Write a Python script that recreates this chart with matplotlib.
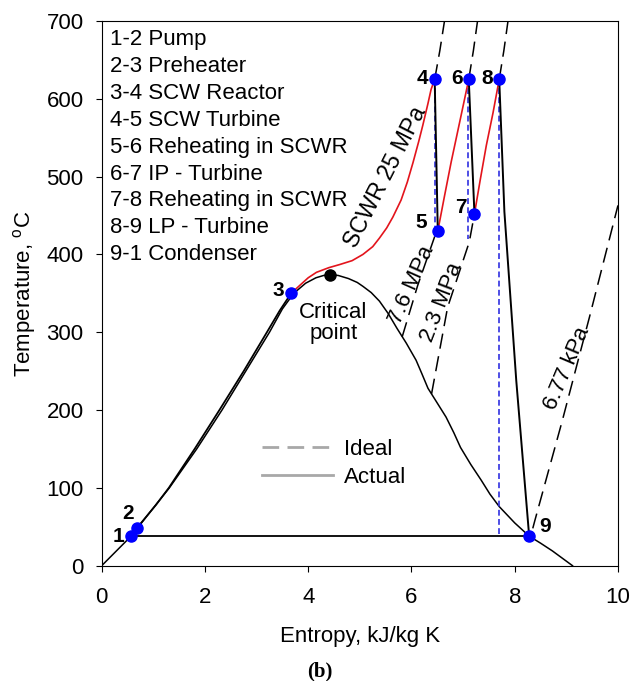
import matplotlib.pyplot as plt
from matplotlib.lines import Line2D

FILENAME = 'out.png'
FS = 16

# saturation dome
sat_liq_s = [0.0, 0.57, 0.83, 1.07, 1.31, 1.84, 2.33, 2.79, 3.25, 3.50, 3.72, 3.95,
             4.15, 4.30, 4.42]
sat_liq_T = [0, 38, 60, 80, 100, 150, 200, 250, 300, 330, 350, 363,
             370, 373, 374]
sat_vap_s = [4.42, 4.58, 4.78, 4.95, 5.06, 5.22, 5.38, 5.55, 5.72, 5.90, 6.09, 6.20,
             6.32, 6.50, 6.67, 6.82, 6.95, 7.15, 7.35, 7.52, 7.70, 8.00, 8.28, 8.50,
             8.73, 9.12]
sat_vap_T = [374, 373, 369, 364, 359, 351, 340, 324, 305, 286, 264, 247,
             228, 209, 191, 171, 152, 130, 110, 92, 76, 55, 38, 29,
             19, 0]
crit_s, crit_T = 4.42, 374

# cycle state points 1..9
pt_names = ['1', '2', '3', '4', '5', '6', '7', '8', '9']
pt_s = [0.57, 0.69, 3.67, 6.45, 6.51, 7.11, 7.22, 7.70, 8.28]
pt_T = [38, 49, 350, 625, 430, 625, 452, 625, 38]
lbl_s = [0.33, 0.52, 3.42, 6.21, 6.19, 6.88, 6.95, 7.46, 8.58]
lbl_T = [38, 67, 354, 626, 441, 626, 460, 626, 50]

# process lines
preheat_s = [0.69, 1.05, 1.30, 1.80, 2.28, 2.75, 3.20, 3.45, 3.67]
preheat_T = [49, 78, 100, 150, 200, 250, 300, 328, 350]
reactor_s = [3.67, 3.85, 4.00, 4.16, 4.40, 4.61, 4.85, 5.06, 5.25, 5.38, 5.52, 5.64,
             5.80, 5.92, 6.03, 6.14, 6.22, 6.32, 6.38, 6.45]
reactor_T = [350, 361, 370, 377, 383, 387, 392, 400, 410, 421, 434, 448,
             470, 493, 518, 545, 566, 594, 612, 625]
reheat1_s = [6.51, 6.64, 6.77, 6.95, 7.11]
reheat1_T = [430, 475, 519, 575, 625]
reheat2_s = [7.22, 7.33, 7.45, 7.58, 7.70]
reheat2_T = [452, 495, 540, 582, 625]
lp_s = [7.70, 7.80, 8.03, 8.28]
lp_T = [625, 455, 238, 38]

# ideal (isentropic) expansions
ideal_s = [6.45, 7.09, 7.70]
ideal_top = [625, 625, 625]
ideal_bottom = [422, 420, 38]

# isobars
p25_s = [6.45, 6.55, 6.64]
p25_T = [625, 662, 700]
p76_lo_s = [5.82, 6.12, 6.45, 6.51]
p76_lo_T = [294, 360, 423, 430]
p76_hi_s = [7.11, 7.20, 7.28]
p76_hi_T = [625, 662, 700]
p23_lo_s = [6.39, 6.70, 7.12, 7.22]
p23_lo_T = [221, 332, 416, 452]
p23_hi_s = [7.70, 7.79, 7.87]
p23_hi_T = [625, 662, 700]
p677_s = [8.35, 8.39, 8.92, 9.45, 10.0]
p677_T = [48, 58, 186, 320, 463]

steps = ['1-2 Pump', '2-3 Preheater', '3-4 SCW Reactor', '4-5 SCW Turbine',
         '5-6 Reheating in SCWR', '6-7 IP - Turbine', '7-8 Reheating in SCWR',
         '8-9 LP - Turbine', '9-1 Condenser']

plt.rcParams['font.family'] = ['Liberation Sans', 'DejaVu Sans']
plt.rcParams['font.size'] = FS
plt.rcParams['mathtext.fontset'] = 'custom'
plt.rcParams['mathtext.rm'] = 'Liberation Sans'

fig = plt.figure(figsize=(6.3, 6.81), dpi=100)
ax = fig.add_axes([0.1614, 0.1693, 0.8195, 0.7999])

ax.plot(sat_liq_s, sat_liq_T, color='black', lw=1.1)
ax.plot(sat_vap_s, sat_vap_T, color='black', lw=1.1)

dash = dict(color='black', lw=1.1, dashes=(10, 5))
for xs, ys in [(p25_s, p25_T), (p76_lo_s, p76_lo_T), (p76_hi_s, p76_hi_T),
               (p23_lo_s, p23_lo_T), (p23_hi_s, p23_hi_T), (p677_s, p677_T)]:
    ax.plot(xs, ys, **dash)

for s, t0, t1 in zip(ideal_s, ideal_top, ideal_bottom):
    ax.plot([s, s], [t0, t1], color='#3030e0', lw=1.2, dashes=(3.5, 2))

ax.plot(preheat_s, preheat_T, color='black', lw=1.3)
ax.plot(reactor_s, reactor_T, color='#e3141c', lw=1.2)
ax.plot(reheat1_s, reheat1_T, color='#e3141c', lw=1.2)
ax.plot(reheat2_s, reheat2_T, color='#e3141c', lw=1.2)
ax.plot([pt_s[3], pt_s[4]], [pt_T[3], pt_T[4]], color='black', lw=1.4)
ax.plot([pt_s[5], pt_s[6]], [pt_T[5], pt_T[6]], color='black', lw=1.4)
ax.plot(lp_s, lp_T, color='black', lw=1.4)
ax.plot([pt_s[8], pt_s[0]], [pt_T[8], pt_T[0]], color='black', lw=1.3)
ax.plot([pt_s[0], pt_s[1]], [pt_T[0], pt_T[1]], color='black', lw=1.3)

ax.plot(pt_s, pt_T, linestyle='none', marker='o', ms=8, color='#0000ff', zorder=5)
ax.plot([crit_s], [crit_T], linestyle='none', marker='o', ms=8, color='black', zorder=5)

for name, x, y in zip(pt_names, lbl_s, lbl_T):
    ax.text(x, y, name, fontsize=15, fontweight='bold', ha='center', va='center')

ax.text(4.49, 312, 'Critical\npoint', ha='center', va='center', linespacing=1.05)
ax.text(5.49, 500, 'SCWR 25 MPa', rotation=63, ha='center', va='center', fontsize=16.5)
ax.text(6.00, 361, '7.6 MPa', rotation=66, ha='center', va='center')
ax.text(6.59, 339, '2.3 MPa', rotation=69, ha='center', va='center')
ax.text(9.02, 254, '6.77 kPa', rotation=67, ha='center', va='center')

for i, line in enumerate(steps):
    ax.text(0.016, 0.966 - i*0.0494, line, transform=ax.transAxes, ha='left', va='center')

handles = [Line2D([], [], color='#a8a8a8', lw=2, dashes=(6, 3)),
           Line2D([], [], color='#a8a8a8', lw=2)]
ax.legend(handles, ['Ideal', 'Actual'], loc='center left', bbox_to_anchor=(0.31, 0.188),
          frameon=False, borderpad=0, borderaxespad=0, handlelength=3.2,
          handletextpad=0.5, labelspacing=0.3)

ax.set_xlim(0, 10)
ax.set_ylim(0, 700)
ax.set_xticks(range(0, 11, 2))
ax.set_yticks(range(0, 701, 100))
ax.tick_params(direction='out', length=4, top=False, right=False)
ax.tick_params(axis='x', pad=11)
ax.tick_params(axis='y', pad=9)
ax.set_xlabel('Entropy, kJ/kg K', labelpad=13)
ax.set_ylabel(r'Temperature, $^{\rm o}$C', labelpad=6)

fig.text(0.508, 0.0147, '(b)', family='Liberation Serif', fontweight='bold',
         fontsize=15, ha='center', va='center')

fig.savefig(FILENAME)
